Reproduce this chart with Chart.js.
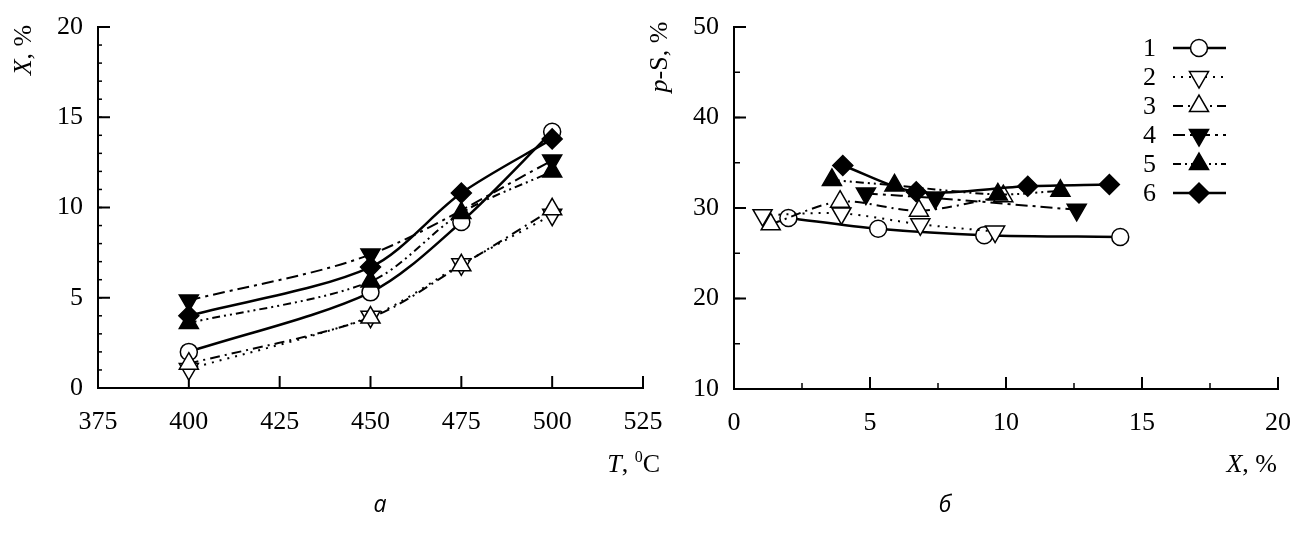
<!DOCTYPE html>
<html>
<head>
<meta charset="utf-8">
<script src="https://cdn.jsdelivr.net/npm/chart.js@4/dist/chart.umd.min.js"></script>
<style>
html, body { margin: 0; padding: 0; background: #fff; }
#wrap { position: relative; width: 1294px; height: 534px; overflow: hidden; }
canvas { position: absolute; top: 0; }
#left { left: 0; }
#right { left: 640px; }
</style>
</head>
<body>
<div id="wrap">
  <canvas id="left" width="670" height="534"></canvas>
  <canvas id="right" width="654" height="534"></canvas>
</div>
<script>
// temperatures (deg C), series 4 has no point at 475
const temps = [400, 450, 475, 500];
const temps4 = [400, 450, 500];

// conversion X, % (panel a), also the x values of panel b
const conv1 = [2.0, 5.3, 9.2, 14.2];
const conv2 = [1.05, 3.95, 6.85, 9.6];
const conv3 = [1.35, 3.9, 6.8, 9.9];
const conv4 = [4.85, 7.4, 12.6];
const conv5 = [3.6, 5.9, 9.7, 12.0];
const conv6 = [4.0, 6.7, 10.8, 13.8];

// selectivity p-S, % (panel b)
const sel1 = [28.9, 27.7, 27.0, 26.8];
const sel2 = [29.2, 29.4, 28.2, 27.4];
const sel3 = [28.2, 30.7, 29.7, 31.3];
const sel4 = [31.6, 31.1, 29.8];
const sel5 = [33.1, 32.5, 31.5, 31.9];
const sel6 = [34.7, 31.8, 32.4, 32.6];

const seriesNames = ['1', '2', '3', '4', '5', '6'];

const SERIF = 'Liberation Serif';

// marker / line look of each series
const looks = [
    { style: 'circle',   rot: 0,   fill: '#fff', r: 8.5, dash: [],                 lw: 2.5 },
    { style: 'triangle', rot: 180, fill: '#fff', r: 11,  dash: [2, 6],             lw: 2 },
    { style: 'triangle', rot: 0,   fill: '#fff', r: 11,  dash: [10, 5, 2, 5],      lw: 2 },
    { style: 'triangle', rot: 180, fill: '#000', r: 11,  dash: [12, 5, 3, 5],      lw: 2 },
    { style: 'triangle', rot: 0,   fill: '#000', r: 11,  dash: [8, 4, 2, 4, 2, 4], lw: 2 },
    { style: 'rectRot',  rot: 0,   fill: '#000', r: 10,  dash: [],                 lw: 2.5 }
];

function makeSet(i, xs, ys, tension) {
    const lk = looks[i];
    return {
        label: seriesNames[i],
        data: xs.map((x, k) => ({ x: x, y: ys[k] })),
        borderColor: '#000',
        borderWidth: lk.lw,
        borderDash: lk.dash,
        tension: tension,
        fill: false,
        pointStyle: lk.style,
        pointRotation: lk.rot,
        pointRadius: lk.r,
        pointBackgroundColor: lk.fill,
        pointBorderColor: '#000',
        pointBorderWidth: 1.5,
        order: 6 - i
    };
}

const leftSets = [
    makeSet(0, temps, conv1, 0.3),
    makeSet(1, temps, conv2, 0.3),
    makeSet(2, temps, conv3, 0.3),
    makeSet(3, temps4, conv4, 0.3),
    makeSet(4, temps, conv5, 0.3),
    makeSet(5, temps, conv6, 0.3)
];

const rightSets = [
    makeSet(0, conv1, sel1, 0.3),
    makeSet(1, conv2, sel2, 0.3),
    makeSet(2, conv3, sel3, 0.3),
    makeSet(3, conv4, sel4, 0.3),
    makeSet(4, conv5, sel5, 0.3),
    makeSet(5, conv6, sel6, 0.3)
];

// text made of several runs (italic letter + plain rest)
function richText(ctx, parts, x, y, align) {
    let w = 0;
    parts.forEach(p => { ctx.font = p[1]; w += ctx.measureText(p[0]).width; });
    let cx = align === 'right' ? x - w : (align === 'center' ? x - w / 2 : x);
    ctx.textAlign = 'left';
    ctx.textBaseline = 'alphabetic';
    parts.forEach(p => {
        ctx.font = p[1];
        ctx.fillText(p[0], cx, y + (p[2] || 0));
        cx += ctx.measureText(p[0]).width;
    });
}

function drawMarker(ctx, lk, x, y) {
    ctx.save();
    ctx.fillStyle = lk.fill;
    ctx.strokeStyle = '#000';
    ctx.lineWidth = 1.5;
    ctx.setLineDash([]);
    ctx.beginPath();
    if (lk.style === 'circle') {
        ctx.arc(x, y, lk.r, 0, Math.PI * 2);
    } else if (lk.style === 'triangle') {
        const s = lk.rot === 180 ? -1 : 1;
        for (let k = 0; k < 3; k++) {
            const a = k * 2 * Math.PI / 3;
            const px = x + Math.sin(a) * lk.r;
            const py = y - s * Math.cos(a) * lk.r;
            if (k === 0) ctx.moveTo(px, py); else ctx.lineTo(px, py);
        }
    } else {
        ctx.moveTo(x - lk.r, y);
        ctx.lineTo(x, y - lk.r);
        ctx.lineTo(x + lk.r, y);
        ctx.lineTo(x, y + lk.r);
    }
    ctx.closePath();
    ctx.fill();
    ctx.stroke();
    ctx.restore();
}

// inward tick marks
function tickPlugin(xMajor, xMinor, yMajor, yMinor) {
    return {
        id: 'inTicks',
        beforeDatasetsDraw(chart) {
            const ctx = chart.ctx;
            const xs = chart.scales.x, ys = chart.scales.y;
            const a = chart.chartArea;
            ctx.save();
            ctx.strokeStyle = '#000';
            ctx.setLineDash([]);
            const eps = 1e-6;
            if (xMinor) {
                ctx.lineWidth = 1.5;
                for (let v = xs.min; v <= xs.max + eps; v += xMinor) {
                    const p = xs.getPixelForValue(v);
                    ctx.beginPath(); ctx.moveTo(p, a.bottom); ctx.lineTo(p, a.bottom - 6); ctx.stroke();
                }
            }
            ctx.lineWidth = 2;
            for (let v = xs.min; v <= xs.max + eps; v += xMajor) {
                const p = xs.getPixelForValue(v);
                ctx.beginPath(); ctx.moveTo(p, a.bottom); ctx.lineTo(p, a.bottom - 12); ctx.stroke();
            }
            if (yMinor) {
                ctx.lineWidth = 1.5;
                for (let v = ys.min; v <= ys.max + eps; v += yMinor) {
                    const p = ys.getPixelForValue(v);
                    ctx.beginPath(); ctx.moveTo(a.left, p); ctx.lineTo(a.left + (yMinor < 2 ? 4 : 6), p); ctx.stroke();
                }
            }
            ctx.lineWidth = 2;
            for (let v = ys.min; v <= ys.max + eps; v += yMajor) {
                const p = ys.getPixelForValue(v);
                ctx.beginPath(); ctx.moveTo(a.left, p); ctx.lineTo(a.left + 12, p); ctx.stroke();
            }
            ctx.restore();
        }
    };
}

function axisOpts(min, max, step, isX) {
    const o = {
        type: 'linear',
        min: min,
        max: max,
        grid: { display: false, drawTicks: false },
        border: { display: true, color: '#000', width: 2 },
        ticks: {
            stepSize: step,
            color: '#000',
            font: { family: SERIF, size: 26 },
            padding: isX ? 19 : 15,
            maxRotation: 0,
            autoSkip: false
        }
    };
    // fixed axis boxes, no extra room for end labels
    if (isX) o.afterFit = s => { s.height = 60; s.paddingLeft = 0; s.paddingRight = 0; };
    else o.afterFit = s => { s.width = 70; s.paddingTop = 0; s.paddingBottom = 0; };
    return o;
}

const leftText = {
    id: 'leftText',
    afterDraw(chart) {
        const ctx = chart.ctx;
        ctx.save();
        ctx.fillStyle = '#000';
        // y title, rotated
        ctx.translate(31, 50);
        ctx.rotate(-Math.PI / 2);
        richText(ctx, [['X', 'italic 26px ' + SERIF], [', %', '26px ' + SERIF]], 0, 0, 'center');
        ctx.restore();
        ctx.save();
        ctx.fillStyle = '#000';
        richText(ctx, [['T', 'italic 26px ' + SERIF], [', ', '26px ' + SERIF], ['0', '16px ' + SERIF, -10], ['C', '26px ' + SERIF]], 660, 472, 'right');
        richText(ctx, [['а', 'italic 23px "Open Sans"']], 380, 512, 'center');
        ctx.restore();
    }
};

const rightText = {
    id: 'rightText',
    afterDraw(chart) {
        const ctx = chart.ctx;
        ctx.save();
        ctx.fillStyle = '#000';
        ctx.translate(27, 57);
        ctx.rotate(-Math.PI / 2);
        richText(ctx, [['p', 'italic 26px ' + SERIF], ['-S, %', '26px ' + SERIF]], 0, 0, 'center');
        ctx.restore();
        ctx.save();
        ctx.fillStyle = '#000';
        richText(ctx, [['X', 'italic 26px ' + SERIF], [', %', '26px ' + SERIF]], 637, 472, 'right');
        richText(ctx, [['б', 'italic 23px "Open Sans"']], 305, 512, 'center');

        // legend: number, line sample, marker
        const x0 = 533, x1 = 586, xm = 559;
        chart.data.datasets.forEach((ds, i) => {
            const y = 48 + i * 29;
            ctx.fillStyle = '#000';
            ctx.font = '26px ' + SERIF;
            ctx.textAlign = 'right';
            ctx.textBaseline = 'middle';
            ctx.fillText(ds.label, 516, y + 1);
            ctx.strokeStyle = '#000';
            ctx.lineWidth = looks[i].lw;
            ctx.setLineDash(looks[i].dash);
            ctx.beginPath();
            ctx.moveTo(x0, y);
            ctx.lineTo(x1, y);
            ctx.stroke();
            drawMarker(ctx, looks[i], xm, y);
        });
        ctx.restore();
    }
};

new Chart(document.getElementById('left'), {
    type: 'line',
    data: { datasets: leftSets },
    options: {
        responsive: false,
        animation: false,
        layout: { padding: { left: 28, top: 27, right: 27, bottom: 86 } },
        plugins: { legend: { display: false }, tooltip: { enabled: false } },
        scales: {
            x: axisOpts(375, 525, 25, true),
            y: axisOpts(0, 20, 5, false)
        }
    },
    plugins: [tickPlugin(25, 0, 5, 1), leftText]
});

new Chart(document.getElementById('right'), {
    type: 'line',
    data: { datasets: rightSets },
    options: {
        responsive: false,
        animation: false,
        layout: { padding: { left: 24, top: 27, right: 16, bottom: 85 } },
        plugins: { legend: { display: false }, tooltip: { enabled: false } },
        scales: {
            x: axisOpts(0, 20, 5, true),
            y: axisOpts(10, 50, 10, false)
        }
    },
    plugins: [tickPlugin(5, 2.5, 10, 5), rightText]
});
</script>
</body>
</html>
